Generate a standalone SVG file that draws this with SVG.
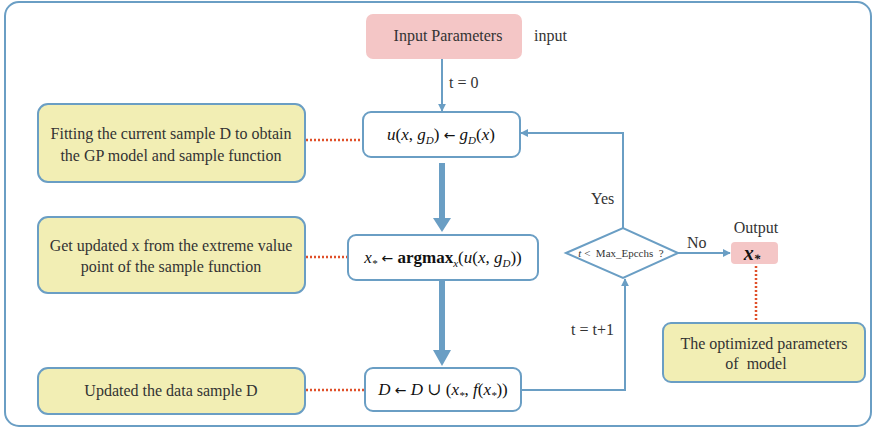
<svg xmlns="http://www.w3.org/2000/svg" width="874" height="429" viewBox="0 0 874 429">
<defs>
<marker id="ah" viewBox="0 0 10 10" refX="9" refY="5" markerWidth="8" markerHeight="8" markerUnits="userSpaceOnUse" orient="auto"><path d="M0,0 L10,5 L0,10 z" fill="#6a9ec4"/></marker>
</defs>
<style>
.box{fill:#ffffff;stroke:#6a9ec4;stroke-width:2}
.note{fill:#f2eeb4;stroke:#6a9ec4;stroke-width:2}
.pink{fill:#f4c6c6}
.t{font-family:"Liberation Serif","DejaVu Serif",serif;font-size:16px;fill:#333}
.m{font-family:"Liberation Serif","DejaVu Serif",serif;font-size:17px;fill:#111;font-style:italic}
.r{font-style:normal}
.ar{font-style:normal;font-family:"DejaVu Sans",sans-serif;font-size:14px}
.ln{fill:none;stroke:#6a9ec4;stroke-width:2}
.thick{fill:none;stroke:#6a9ec4;stroke-width:6}
.dot{fill:none;stroke:#e0502a;stroke-width:2.5;stroke-dasharray:2 2}
</style>
<rect x="5" y="2" width="866" height="424" rx="14" fill="#fff" stroke="#6a9ec4" stroke-width="2"/>
<g id="connectors">
<line class="ln" x1="442" y1="59" x2="442" y2="111" marker-end="url(#ah)"/>
<line class="thick" x1="442" y1="163" x2="442" y2="220"/>
<path d="M433,218 L451,218 L442,232 z" fill="#6a9ec4"/>
<line class="thick" x1="442" y1="281" x2="442" y2="352"/>
<path d="M433,350 L451,350 L442,366 z" fill="#6a9ec4"/>
<polyline class="ln" points="521,390 625,390 625,279" marker-end="url(#ah)"/>
<polyline class="ln" points="623,228 623,133 521,133" marker-end="url(#ah)"/>
<line class="ln" x1="678" y1="253" x2="730" y2="253" marker-end="url(#ah)"/>
<line class="dot" x1="306" y1="140" x2="360" y2="140"/>
<line class="dot" x1="306" y1="257" x2="348" y2="257"/>
<line class="dot" x1="306" y1="390" x2="364" y2="390"/>
<line class="dot" x1="756" y1="266" x2="756" y2="323"/>
<text class="t" x="449" y="88">t = 0</text>
<text class="t" x="591" y="204">Yes</text>
<text class="t" x="687" y="248">No</text>
<text class="t" x="571" y="335">t = t+1</text>
</g>
<g id="input">
<rect class="pink" x="366" y="14" width="156" height="45" rx="7"/>
<text class="t" x="448" y="41" text-anchor="middle">Input Parameters</text>
<text class="t" x="534" y="41">input</text>
</g>
<g id="fit">
<rect class="box" x="363" y="112" width="157" height="45" rx="8"/>
<text class="m" x="441" y="140" text-anchor="middle">u<tspan class="r">(</tspan>x<tspan class="r">, </tspan>g<tspan style="font-size:11px" dy="4">D</tspan><tspan class="r" dy="-4">) </tspan><tspan class="ar">←</tspan><tspan class="r"> </tspan>g<tspan style="font-size:11px" dy="4">D</tspan><tspan class="r" dy="-4">(</tspan>x<tspan class="r">)</tspan></text>
</g>
<g id="argmax">
<rect class="box" x="348" y="235" width="190" height="45" rx="8"/>
<text class="m" x="443" y="263" text-anchor="middle">x<tspan style="font-size:11px" dy="4">*</tspan><tspan class="r" dy="-4"> </tspan><tspan class="ar">←</tspan><tspan class="r"> </tspan><tspan class="r" font-weight="bold">argmax</tspan><tspan style="font-size:11px" dy="4">x</tspan><tspan class="r" dy="-4">(</tspan>u<tspan class="r">(</tspan>x<tspan class="r">, </tspan>g<tspan style="font-size:11px" dy="4">D</tspan><tspan class="r" dy="-4">))</tspan></text>
</g>
<g id="update">
<rect class="box" x="365" y="368" width="156" height="43" rx="8"/>
<text class="m" x="443" y="395" text-anchor="middle">D<tspan class="r"> </tspan><tspan class="ar">←</tspan><tspan class="r"> </tspan>D<tspan class="r"> ∪ (</tspan>x<tspan style="font-size:11px" dy="4">*</tspan><tspan class="r" dy="-4">, </tspan>f<tspan class="r">(</tspan>x<tspan style="font-size:11px" dy="4">*</tspan><tspan class="r" dy="-4">))</tspan></text>
</g>
<g id="decision">
<polygon points="566,253 623,228 678,253 623,278" fill="#fff" stroke="#6a9ec4" stroke-width="2"/>
<text class="t" x="621" y="257" text-anchor="middle" style="font-size:11px" xml:space="preserve"><tspan font-style="italic">t</tspan> &lt;  Max_Epcchs  ?</text>
</g>
<g id="output">
<text class="t" x="756" y="233" text-anchor="middle">Output</text>
<rect class="pink" x="731" y="242" width="47" height="22" rx="4"/>
<text class="m" x="752" y="260" text-anchor="middle" style="font-size:20px;font-weight:bold">x<tspan style="font-size:13px" dy="3">*</tspan></text>
</g>
<g id="note-fit">
<rect class="note" x="38" y="104" width="267" height="78" rx="10"/>
<text class="t" x="171" y="139" text-anchor="middle">Fitting the current sample D to obtain</text>
<text class="t" x="171" y="161" text-anchor="middle">the GP model and sample function</text>
</g>
<g id="note-argmax">
<rect class="note" x="38" y="217" width="267" height="76" rx="10"/>
<text class="t" x="171" y="251" text-anchor="middle">Get updated x from the extreme value</text>
<text class="t" x="171" y="272" text-anchor="middle">point of the sample function</text>
</g>
<g id="note-update">
<rect class="note" x="38" y="368" width="267" height="46" rx="10"/>
<text class="t" x="171" y="396" text-anchor="middle">Updated the data sample D</text>
</g>
<g id="note-output">
<rect class="note" x="663" y="323" width="202" height="59" rx="8"/>
<text class="t" x="764" y="349" text-anchor="middle">The optimized parameters</text>
<text class="t" x="756" y="369" text-anchor="middle" xml:space="preserve">of  model</text>
</g>
</svg>
